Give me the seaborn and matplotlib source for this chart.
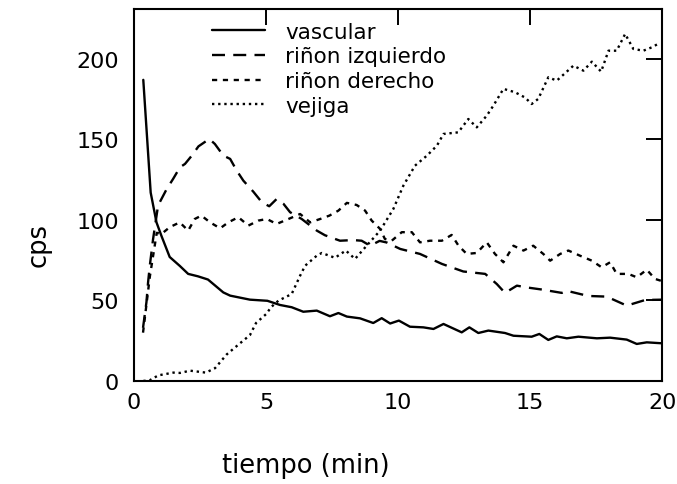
import matplotlib
matplotlib.use("Agg")
import matplotlib.pyplot as plt
import seaborn as sns
import pandas as pd

# Time-activity curves (counts per second vs minutes)
vascular_t = [0.35, 0.63, 0.85, 1.04, 1.35, 1.73, 2.05, 2.42, 2.8, 3.38, 3.64, 4.39, 5.05,
              5.53, 5.97, 6.41, 6.92, 7.42, 7.74, 8.06, 8.56, 9.06, 9.38, 9.7, 10.03, 10.45,
              10.96, 11.34, 11.72, 12.41, 12.7, 13.04, 13.42, 14.05, 14.37, 15.06, 15.35,
              15.69, 16.01, 16.39, 16.83, 17.53, 18.03, 18.66, 19.04, 19.42, 20.0]
vascular_v = [187, 117, 98.5, 90, 77, 71.5, 66.5, 65, 63, 55, 53, 50.5, 49.8,
              47.2, 45.8, 43, 43.7, 40.2, 42.2, 40, 38.9, 36, 39, 35.7, 37.5, 33.7,
              33.3, 32.3, 35.4, 30.2, 33.3, 29.8, 31.3, 29.8, 28.1, 27.5, 29.2,
              25.5, 27.7, 26.5, 27.5, 26.5, 26.9, 25.7, 23, 24, 23.4]

izq_t = [0.34, 0.47, 0.53, 0.6, 0.72, 0.91, 1.23, 1.48, 1.74, 1.93, 2.19, 2.44, 2.85, 3.06,
         3.38, 3.64, 3.89, 4.14, 4.52, 4.84, 5.12, 5.4, 5.66, 5.91, 6.35, 6.92, 7.23, 7.8,
         8.3, 8.62, 8.94, 9.3, 9.57, 10.08, 10.83, 11.66, 12.47, 13.3, 13.74, 14.05, 14.5,
         14.87, 15.44, 16.2, 16.39, 17.2, 17.9, 18.66, 19.36, 20.0]
izq_v = [33, 49, 61, 72, 88, 109, 119, 125.5, 132.7, 134.8, 140, 145.7, 150.3, 147.2,
         140, 137.9, 130.6, 124.4, 117.5, 111, 108.5, 113, 110, 104.8, 100.6, 93.4, 90.5, 87.1,
         87.5, 87.1, 84, 87, 86, 82, 78.9, 72.7, 68, 66.5, 60.2, 54.7, 59.2,
         58.1, 56.8, 54.7, 56, 52.8, 52.4, 46.8, 50.3, 50.5]

der_t = [0.34, 0.6, 0.86, 1.04, 1.35, 1.73, 2.05, 2.3, 2.55, 2.88, 3.26, 3.57, 3.95, 4.33,
         4.71, 5.03, 5.4, 5.85, 6.29, 6.67, 7.05, 7.4, 7.74, 8.06, 8.43, 8.75, 9.0, 9.32,
         9.5, 9.76, 10.14, 10.52, 10.83, 11.21, 11.66, 12.03, 12.29, 12.6, 12.98, 13.36,
         13.67, 13.99, 14.37, 14.75, 15.12, 15.5, 15.76, 16.14, 16.45, 16.89, 17.34, 17.71,
         18.03, 18.28, 18.72, 19.04, 19.42, 19.73, 20.0]
der_v = [30, 65, 92, 91.3, 95.5, 98.5, 93.4, 100.6, 102.7, 98.5, 94.8, 98.5, 101.7, 96.5,
         99.6, 100.6, 97.5, 100.6, 103.7, 98.5, 100.6, 102.7, 105.8, 110.6, 109.3, 105.8, 99.6, 94.4,
         88.2, 87.1, 92.4, 92.4, 86.1, 87.1, 87.1, 90.7, 84, 78.9, 79.5, 86.1,
         78.9, 73.7, 84, 81, 84, 78.9, 74.7, 78.9, 81, 77.8, 74.7, 70.6,
         73.7, 66.5, 66.5, 64.4, 69.1, 63.4, 62]

vej_t = [0.35, 0.6, 0.92, 1.49, 1.74, 2.12, 2.72, 3.07, 3.51, 4.02, 4.39, 4.62, 5.0, 5.2,
         5.47, 5.97, 6.29, 6.48, 6.92, 7.11, 7.61, 8.02, 8.37, 8.81, 9.32, 9.82, 10.2, 10.64,
         11.09, 11.47, 11.72, 12.28, 12.66, 12.98, 13.36, 13.61, 13.99, 14.43, 14.81, 15.06,
         15.31, 15.69, 16.01, 16.64, 17.02, 17.34, 17.69, 17.97, 18.28, 18.6, 18.91, 19.29,
         19.61, 19.92]
vej_v = [0, 0.5, 3.5, 5.2, 5, 6.4, 5.2, 8, 16.5, 23.5, 28.5, 36, 41.5, 46,
         49.9, 54, 65.4, 71.6, 77.8, 79.5, 76.5, 81, 75.8, 84, 93.4, 106.8, 121.3, 133.7,
         139.9, 146.1, 153.4, 154.4, 162.7, 157.5, 164.8, 171, 181.4, 179.3, 176, 172,
         175.2, 188.6, 186.5, 195.8, 192.7, 198.3, 192.1, 205.1, 205.1, 215.5, 206.2, 205.1,
         207.2, 210]

series_names = ["vascular", "riñon izquierdo", "riñon derecho", "vejiga"]
series_t = [vascular_t, izq_t, der_t, vej_t]
series_v = [vascular_v, izq_v, der_v, vej_v]
styles = ["-", (0, (5.5, 3.5)), (0, (2.2, 2.4)), (0, (1.0, 1.6))]

x_ticks = [0, 5, 10, 15, 20]
y_ticks = [0, 50, 100, 150, 200]

sns.set_style("white")
plt.rcParams["font.family"] = ["DejaVu Sans"]
plt.rcParams["text.color"] = "black"
plt.rcParams["axes.labelcolor"] = "black"

fig = plt.figure(figsize=(6.77, 4.85), dpi=100)
ax = fig.add_axes([0.198, 0.2124, 0.780, 0.767])

for name, t, v, ls in zip(series_names, series_t, series_v, styles):
    df = pd.DataFrame({"tiempo": t, "cps": v})
    sns.lineplot(data=df, x="tiempo", y="cps", ax=ax, color="black",
                 linewidth=1.7, linestyle=ls, label=name, sort=True)

ax.set_xlim(0, 20)
ax.set_ylim(0, 231)
ax.set_xticks(x_ticks)
ax.set_yticks(y_ticks)
ax.tick_params(axis="both", direction="in", length=11.5, width=1.4,
               top=True, right=True, labelsize=16, colors="black")
ax.tick_params(axis="x", pad=8)
ax.tick_params(axis="y", pad=11)
for sp in ax.spines.values():
    sp.set_visible(True)
    sp.set_linewidth(1.5)
    sp.set_color("black")

ax.set_xlabel("tiempo (min)", fontsize=18.5)
ax.set_ylabel("cps", fontsize=18.5)
ax.xaxis.set_label_coords(0.326, -0.226)
ax.yaxis.set_label_coords(-0.18, 0.368)
ax.xaxis.label.set_va("center")
ax.yaxis.label.set_va("center")

leg = ax.legend(loc="upper left", bbox_to_anchor=(0.148, 0.966), frameon=False,
                fontsize=15.5, handlelength=2.45, handletextpad=0.95,
                labelspacing=0.22, borderpad=0, borderaxespad=0)
for txt in leg.get_texts():
    txt.set_color("black")

fig.savefig("out.png", dpi=100)
